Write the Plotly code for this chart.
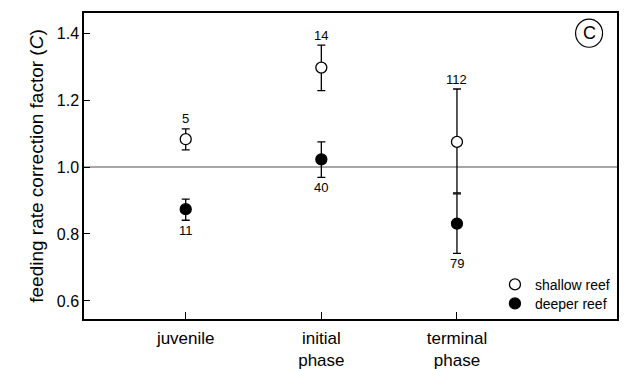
import plotly.graph_objects as go

# Life-history stages on the x axis
stages = ["juvenile", "initial<br>phase", "terminal<br>phase"]
stage_pos = [0, 1, 2]

# Shallow reef: mean correction factor with upper/lower error and sample sizes
shallow_mean = [1.083, 1.297, 1.075]
shallow_err_up = [0.031, 0.067, 0.158]
shallow_err_dn = [0.032, 0.069, 0.152]
shallow_n = ["5", "14", "112"]

# Deeper reef
deeper_mean = [0.874, 1.023, 0.831]
deeper_err_up = [0.030, 0.052, 0.089]
deeper_err_dn = [0.033, 0.054, 0.089]
deeper_n = ["11", "40", "79"]

y_ticks = [0.6, 0.8, 1.0, 1.2, 1.4]

FONT = "Liberation Sans, Arial, Helvetica, sans-serif"

fig = go.Figure()

# reference line at C = 1
fig.add_shape(type="line", xref="paper", yref="y", x0=0, x1=1, y0=1.0, y1=1.0,
              line=dict(color="#8a8a8a", width=1.5), layer="below")

fig.add_trace(go.Scatter(
    x=stage_pos, y=shallow_mean, mode="markers", name="shallow reef",
    legend="legend",
    marker=dict(symbol="circle", size=11, color="white",
                line=dict(color="black", width=1.3)),
    error_y=dict(type="data", symmetric=False, array=shallow_err_up,
                 arrayminus=shallow_err_dn, color="black", thickness=1.3, width=4),
))
fig.add_trace(go.Scatter(
    x=stage_pos, y=deeper_mean, mode="markers", name="deeper reef",
    legend="legend2",
    marker=dict(symbol="circle", size=11, color="black",
                line=dict(color="black", width=1.3)),
    error_y=dict(type="data", symmetric=False, array=deeper_err_up,
                 arrayminus=deeper_err_dn, color="black", thickness=1.3, width=4),
))

# sample sizes: above the shallow-reef bars, below the deeper-reef bars
for xp, m, e, n in zip(stage_pos, shallow_mean, shallow_err_up, shallow_n):
    fig.add_annotation(x=xp, y=m + e, text=n, showarrow=False, yshift=10,
                       font=dict(size=13, color="black", family=FONT))
for xp, m, e, n in zip(stage_pos, deeper_mean, deeper_err_dn, deeper_n):
    fig.add_annotation(x=xp, y=m - e, text=n, showarrow=False, yshift=-10,
                       font=dict(size=13, color="black", family=FONT))

# panel letter in a circle
cx, cy, rx, ry = 0.9476, 0.934, 0.0253, 0.0459
fig.add_shape(type="circle", xref="paper", yref="paper",
              x0=cx - rx, x1=cx + rx, y0=cy - ry, y1=cy + ry,
              line=dict(color="black", width=1.2))
fig.add_annotation(xref="paper", yref="paper", x=cx, y=cy, text="C",
                   xanchor="center", yanchor="middle", showarrow=False,
                   font=dict(size=18, color="black", family=FONT))

legend_style = dict(xanchor="left", yanchor="top", bgcolor="rgba(0,0,0,0)",
                    font=dict(size=14, color="black"))

fig.update_layout(
    width=626, height=369,
    margin=dict(l=84, r=9, t=13, b=50),
    paper_bgcolor="white", plot_bgcolor="white",
    font=dict(family=FONT, color="black"),
    showlegend=True,
    legend=dict(x=0.771, y=0.164, **legend_style),
    legend2=dict(x=0.771, y=0.102, **legend_style),
)
fig.update_xaxes(
    range=[-0.75, 3.18], tickvals=stage_pos, ticktext=stages,
    ticks="inside", ticklen=7, tickwidth=1.2, tickcolor="black",
    showline=True, linecolor="black", linewidth=1.5, mirror=True,
    showgrid=False, zeroline=False, tickfont=dict(size=17),
    ticklabelstandoff=3, automargin=False,
)
fig.update_yaxes(
    range=[0.546, 1.46], tickvals=y_ticks, ticktext=[f"{v:.1f}" for v in y_ticks],
    ticks="inside", ticklen=6, tickwidth=1.2, tickcolor="black",
    showline=True, linecolor="black", linewidth=1.5, mirror=True,
    showgrid=False, zeroline=False, tickfont=dict(size=16), automargin=False,
    title=dict(text="feeding rate correction factor (<i>C</i>)",
               font=dict(size=19), standoff=8),
)

fig.write_html("out.html")
